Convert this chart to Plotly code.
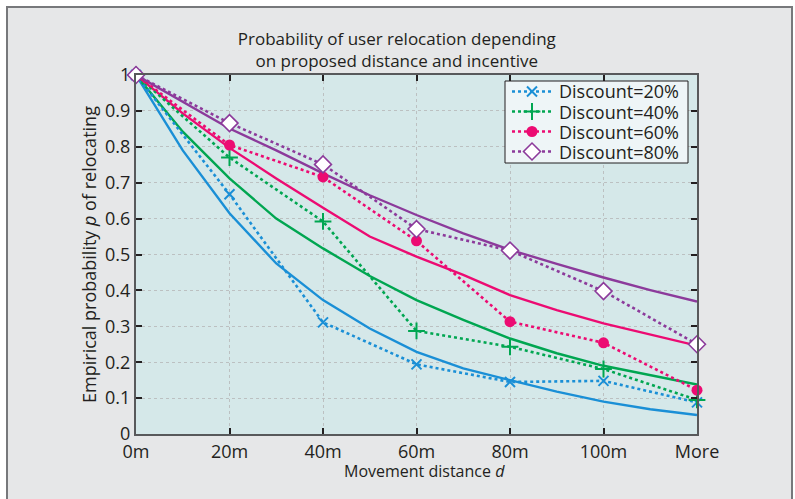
import plotly.graph_objects as go

# ---- data ----
categories = ["0m", "20m", "40m", "60m", "80m", "100m", "More"]
cat_dist = [0, 20, 40, 60, 80, 100, 120]  # metres (More drawn at 120)

emp_20 = [1.0, 0.668, 0.311, 0.194, 0.145, 0.148, 0.088]
emp_40 = [1.0, 0.770, 0.592, 0.287, 0.243, 0.181, 0.095]
emp_60 = [1.0, 0.805, 0.716, 0.538, 0.313, 0.254, 0.122]
emp_80 = [1.0, 0.866, 0.751, 0.571, 0.511, 0.398, 0.250]

fit_dist = [0, 10, 20, 30, 40, 50, 60, 70, 80, 90, 100, 110, 120]
fit_20 = [1.0, 0.79, 0.615, 0.475, 0.373, 0.294, 0.229, 0.183, 0.150, 0.118, 0.090, 0.069, 0.053]
fit_40 = [1.0, 0.842, 0.712, 0.600, 0.517, 0.440, 0.373, 0.318, 0.266, 0.225, 0.190, 0.164, 0.138]
fit_60 = [1.0, 0.893, 0.797, 0.712, 0.630, 0.550, 0.494, 0.443, 0.387, 0.345, 0.308, 0.276, 0.246]
fit_80 = [1.0, 0.926, 0.851, 0.790, 0.726, 0.665, 0.610, 0.559, 0.513, 0.474, 0.436, 0.401, 0.369]

y_ticks = [0, 0.1, 0.2, 0.3, 0.4, 0.5, 0.6, 0.7, 0.8, 0.9, 1]
y_ticktext = ["0", "0.1", "0.2", "0.3", "0.4", "0.5", "0.6", "0.7", "0.8", "0.9", "1"]

names = ["Discount=20%", "Discount=40%", "Discount=60%", "Discount=80%"]
colors = ["#1a8fd6", "#00a651", "#ec0b72", "#8c3a9b"]

FONT = "Open Sans"
TXT = "#231f20"

FW, FH = 795, 499
L, R, T, B = 136, 98, 75, 65
W = FW - L - R
H = FH - T - B

def px(xp):
    return (xp - L) / W

def py(yp):
    return (FH - B - yp) / H

fig = go.Figure()

fits = [fit_20, fit_40, fit_60, fit_80]
emps = [emp_20, emp_40, emp_60, emp_80]
markers = [
    dict(symbol="x-thin", size=10, color=colors[0], line=dict(width=2, color=colors[0])),
    dict(symbol="cross-thin", size=12, color=colors[1], line=dict(width=2, color=colors[1])),
    dict(symbol="circle", size=11, color=colors[2], line=dict(width=0)),
    dict(symbol="diamond", size=13, color="white", line=dict(width=1.6, color=colors[3])),
]

for f, c in zip(fits, colors):
    fig.add_trace(go.Scatter(x=fit_dist, y=f, mode="lines", showlegend=False,
                             line=dict(color=c, width=2.4), cliponaxis=False, hoverinfo="skip"))

for e, c, n, m in zip(emps, colors, names, markers):
    fig.add_trace(go.Scatter(x=cat_dist, y=e, mode="lines+markers", name=n, showlegend=False,
                             line=dict(color=c, width=2.6, dash="dot"),
                             marker=m, cliponaxis=False))

# ---- hand-built legend on an overlay axis (coordinates = fraction of plot area) ----
box_l, box_r, box_t, box_b = px(505), px(688), py(81), py(163)
fig.add_trace(go.Scatter(x=[box_l, box_r, box_r, box_l, box_l], y=[box_b, box_b, box_t, box_t, box_b],
                         mode="lines", fill="toself", fillcolor="#eef5f7",
                         line=dict(color=TXT, width=1), xaxis="x2", yaxis="y2",
                         showlegend=False, hoverinfo="skip", cliponaxis=False))
row_y = [91.5, 111.5, 131.5, 151.5]
for i, (c, n, m) in enumerate(zip(colors, names, markers)):
    yy = py(row_y[i])
    fig.add_trace(go.Scatter(x=[px(512), px(532), px(552)], y=[yy, yy, yy],
                             mode="lines", line=dict(color=c, width=2.6, dash="dot"),
                             xaxis="x2", yaxis="y2", showlegend=False, hoverinfo="skip",
                             cliponaxis=False))
    fig.add_trace(go.Scatter(x=[px(532)], y=[yy], mode="markers", marker=m,
                             xaxis="x2", yaxis="y2", showlegend=False, hoverinfo="skip",
                             cliponaxis=False))
    fig.add_annotation(text=n, xref="paper", yref="paper", x=px(557), y=yy,
                       xanchor="left", yanchor="middle", showarrow=False,
                       font=dict(size=18, family=FONT, color=TXT))

# ---- outer frame ----
for x0, x1, y0, y1 in [(0, 7, 0, FH + 20), (792, FW + 5, 0, FH + 20), (0, FW + 5, -5, 7)]:
    fig.add_shape(type="rect", xref="paper", yref="paper",
                  x0=px(x0), x1=px(x1), y0=py(y1), y1=py(y0),
                  fillcolor="white", line=dict(width=0), layer="below")
fig.add_shape(type="rect", xref="paper", yref="paper",
              x0=px(7), x1=px(792), y0=py(530), y1=py(7),
              fillcolor="rgba(0,0,0,0)", line=dict(color="#77787b", width=2), layer="below")

fig.add_annotation(text="Movement distance <i>d</i>", xref="paper", yref="paper",
                   x=px(424), y=py(471), xanchor="center", yanchor="middle", showarrow=False,
                   font=dict(size=16, family=FONT, color=TXT))

fig.update_layout(
    width=FW, height=FH,
    margin=dict(l=L, r=R, t=T, b=B, autoexpand=False),
    paper_bgcolor="#e6e7e8",
    plot_bgcolor="#d5e8e9",
    font=dict(family=FONT, color=TXT, size=17),
    title=dict(text="Probability of user relocation depending<br>on proposed distance and incentive",
               x=px(416), xanchor="center", y=1 - 45 / FH, yanchor="middle",
               font=dict(size=17, family=FONT, color=TXT)),
    showlegend=False,
    xaxis2=dict(overlaying="x", range=[0, 1], visible=False, fixedrange=True),
    yaxis2=dict(overlaying="y", range=[0, 1], visible=False, fixedrange=True),
)

axis_common = dict(showline=True, linecolor="#58595b", linewidth=2, mirror="allticks",
                   ticks="inside", ticklen=6, tickwidth=1.5, tickcolor="#231f20",
                   showgrid=True, gridcolor="#bcc0c1", griddash="dot", gridwidth=1,
                   zeroline=False, tickfont=dict(size=18, family=FONT, color=TXT))

fig.update_layout(xaxis=dict(range=[0, 120], tickvals=cat_dist, ticktext=categories, **axis_common),
                  yaxis=dict(range=[0, 1], tickvals=y_ticks, ticktext=y_ticktext,
                             title=dict(text="Empirical probability <i>p</i> of relocating", standoff=4,
                                        font=dict(size=18, family=FONT, color=TXT)),
                             **axis_common))

fig.write_html("out.html", config={"displayModeBar": False},
               post_script="document.body.style.margin='0';")
